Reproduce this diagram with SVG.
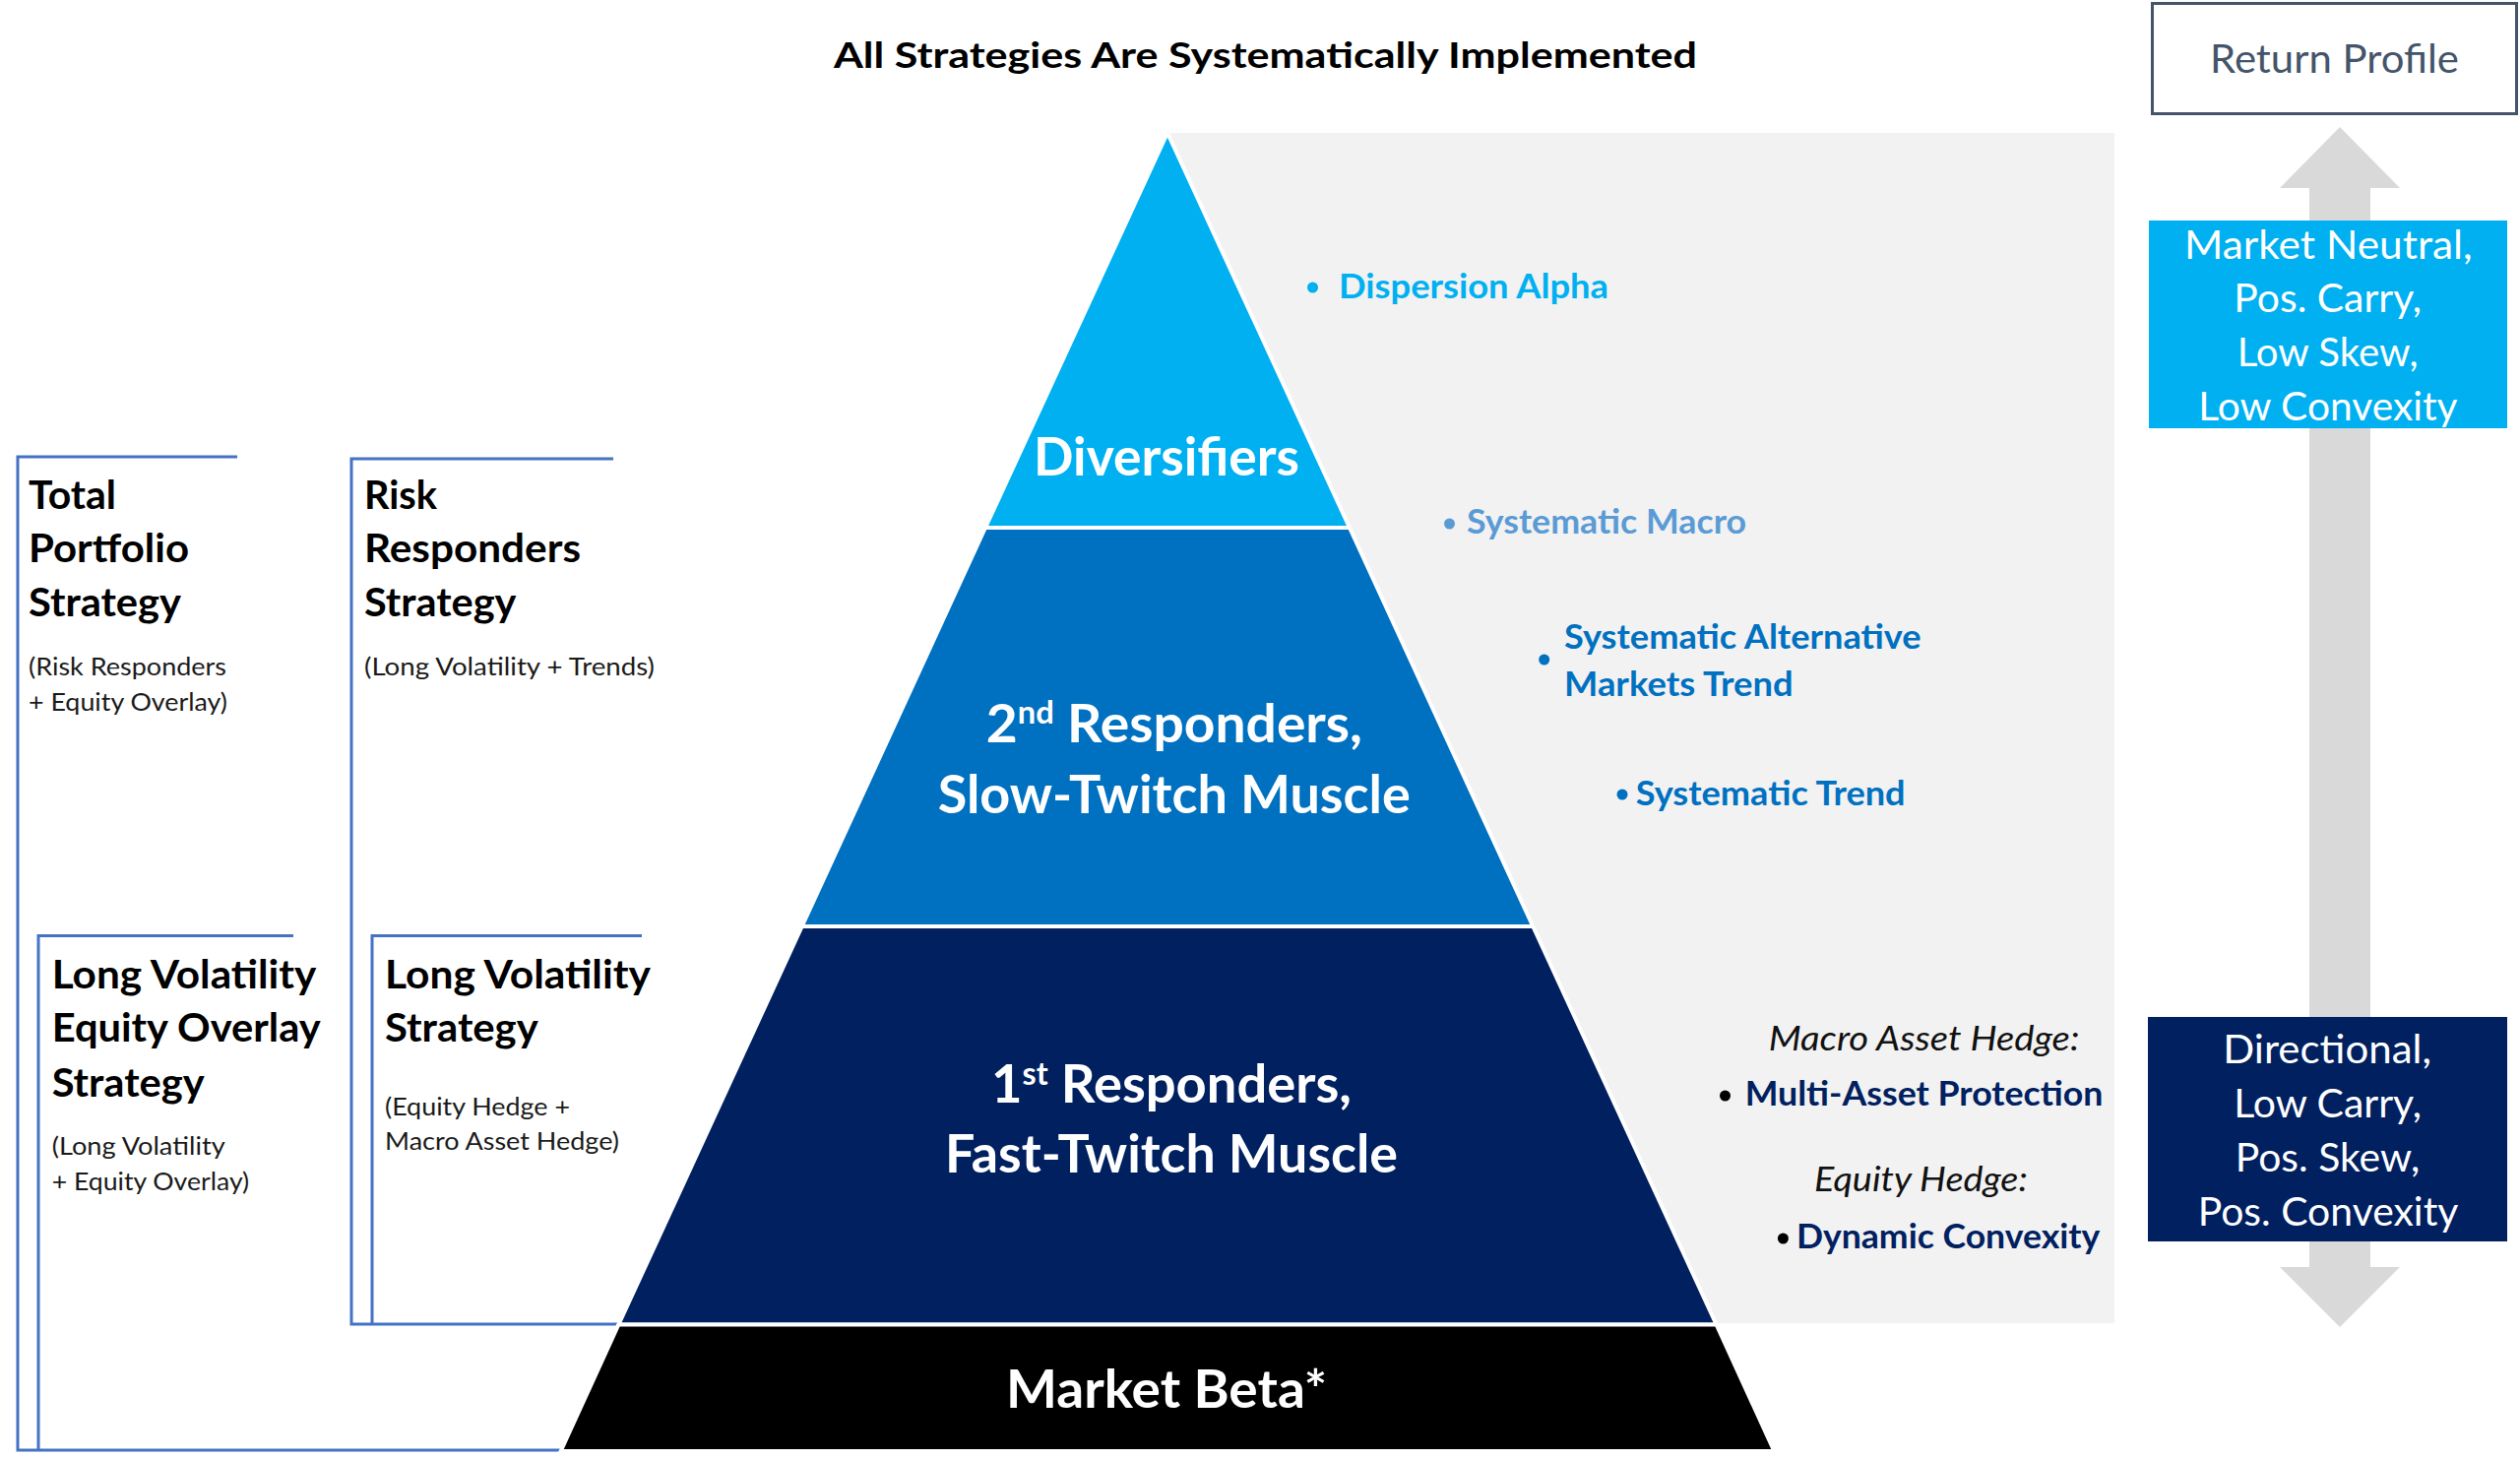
<svg xmlns="http://www.w3.org/2000/svg" width="2560" height="1482" viewBox="0 0 2560 1482">
<style>
text{font-family:Lato,"Open Sans","Liberation Sans",sans-serif}
.b{font-weight:700}
.title{font-size:36.5px;fill:#000}
.hd{font-size:41px;fill:#000;font-weight:700}
.sm{font-size:25.5px;fill:#1a1a1a}
.pyr{font-size:54px;fill:#fff;font-weight:700}
.sup{font-size:32px}
.rt{font-size:35px;font-weight:700}
.it{font-size:34.5px;font-style:italic;fill:#111}
.prof{font-size:40px;fill:#fff}
.brk{fill:none;stroke:#4472C4;stroke-width:3}
.band{stroke:#fff;stroke-width:4;stroke-linejoin:miter}
</style>
<rect width="2560" height="1482" fill="#fff"/>
<rect id="panel" x="1186" y="135" width="962" height="1209" fill="#F2F2F2"/>

<g id="title"><text class="title b" x="847" y="69.3" textLength="877" lengthAdjust="spacingAndGlyphs">All Strategies Are Systematically Implemented</text></g>

<g id="connectors">
<polygon id="profile-arrow" points="2377,129 2438,191 2408,191 2408,1287 2438,1287 2377,1348 2316,1287 2346,1287 2346,191 2316,191" fill="#D9D9D9"/>
</g>

<g id="brackets">
<polyline id="total-bracket" class="brk" points="241,464 18,464 18,1473 571,1473"/>
<polyline id="lveo-bracket" class="brk" points="298,950.5 39,950.5 39,1473"/>
<polyline id="risk-bracket" class="brk" points="623,466 357,466 357,1345 630,1345"/>
<polyline id="lvs-bracket" class="brk" points="652,950.5 378,950.5 378,1345"/>
</g>

<g id="total-portfolio">
<text class="hd" x="29" y="517" textLength="89" lengthAdjust="spacingAndGlyphs">Total</text>
<text class="hd" x="29" y="571" textLength="163" lengthAdjust="spacingAndGlyphs">Portfolio</text>
<text class="hd" x="29" y="626" textLength="155" lengthAdjust="spacingAndGlyphs">Strategy</text>
<text class="sm" x="29" y="686" textLength="201" lengthAdjust="spacingAndGlyphs">(Risk Responders</text>
<text class="sm" x="29" y="722" textLength="202" lengthAdjust="spacingAndGlyphs">+ Equity Overlay)</text>
</g>
<g id="risk-responders">
<text class="hd" x="370" y="517" textLength="74" lengthAdjust="spacingAndGlyphs">Risk</text>
<text class="hd" x="370" y="571" textLength="220" lengthAdjust="spacingAndGlyphs">Responders</text>
<text class="hd" x="370" y="626" textLength="154.5" lengthAdjust="spacingAndGlyphs">Strategy</text>
<text class="sm" x="370" y="686" textLength="295" lengthAdjust="spacingAndGlyphs">(Long Volatility + Trends)</text>
</g>
<g id="lv-equity-overlay">
<text class="hd" x="52.7" y="1004" textLength="268.7" lengthAdjust="spacingAndGlyphs">Long Volatility</text>
<text class="hd" x="52.7" y="1058" textLength="273" lengthAdjust="spacingAndGlyphs">Equity Overlay</text>
<text class="hd" x="52.7" y="1113.5" textLength="155" lengthAdjust="spacingAndGlyphs">Strategy</text>
<text class="sm" x="52.7" y="1173" textLength="176" lengthAdjust="spacingAndGlyphs">(Long Volatility</text>
<text class="sm" x="52.7" y="1208.5" textLength="200.5" lengthAdjust="spacingAndGlyphs">+ Equity Overlay)</text>
</g>
<g id="lv-strategy">
<text class="hd" x="391" y="1004" textLength="270" lengthAdjust="spacingAndGlyphs">Long Volatility</text>
<text class="hd" x="391" y="1058" textLength="155.8" lengthAdjust="spacingAndGlyphs">Strategy</text>
<text class="sm" x="391" y="1133" textLength="188" lengthAdjust="spacingAndGlyphs">(Equity Hedge +</text>
<text class="sm" x="391" y="1168" textLength="238" lengthAdjust="spacingAndGlyphs">Macro Asset Hedge)</text>
</g>

<g id="diversifiers">
<polygon class="band" points="1186,135 1371,536 1001,536" fill="#00B0F0"/>
<text class="pyr" x="1050" y="482.7" textLength="270" lengthAdjust="spacingAndGlyphs">Diversifiers</text>
</g>
<g id="second-responders">
<polygon class="band" points="1001,536 1371,536 1557.3,941 814.7,941" fill="#0070C0"/>
<text class="pyr" x="1001.7" y="754" textLength="382.3" lengthAdjust="spacingAndGlyphs">2<tspan class="sup" dy="-19">nd</tspan><tspan dy="19"> Responders,</tspan></text>
<text class="pyr" x="952.7" y="826" textLength="480" lengthAdjust="spacingAndGlyphs">Slow-Twitch Muscle</text>
</g>
<g id="first-responders">
<polygon class="band" points="814.7,941 1557.3,941 1743.6,1345.5 628.4,1345.5" fill="#002060"/>
<text class="pyr" x="1007" y="1120" textLength="366" lengthAdjust="spacingAndGlyphs">1<tspan class="sup" dy="-18">st</tspan><tspan dy="18"> Responders,</tspan></text>
<text class="pyr" x="960" y="1190.7" textLength="460" lengthAdjust="spacingAndGlyphs">Fast-Twitch Muscle</text>
</g>
<g id="market-beta">
<polygon class="band" points="628.4,1345.5 1743.6,1345.5 1802.3,1474 569.7,1474" fill="#000"/>
<text class="pyr" x="1022" y="1430" textLength="326" lengthAdjust="spacingAndGlyphs">Market Beta*</text>
</g>

<g id="strategy-labels">
<circle cx="1333.5" cy="292" r="5.5" fill="#00B0F0"/>
<text class="rt" x="1360" y="302.7" fill="#00B0F0" textLength="274" lengthAdjust="spacingAndGlyphs">Dispersion Alpha</text>
<circle cx="1472.5" cy="532" r="5.5" fill="#5B9BD5"/>
<text class="rt" x="1490" y="542" fill="#5B9BD5" textLength="284" lengthAdjust="spacingAndGlyphs">Systematic Macro</text>
<circle cx="1568.7" cy="670" r="5.5" fill="#0070C0"/>
<text class="rt" x="1589" y="659.3" fill="#0070C0" textLength="362.6" lengthAdjust="spacingAndGlyphs">Systematic Alternative</text>
<text class="rt" x="1589" y="706.7" fill="#0070C0" textLength="232.7" lengthAdjust="spacingAndGlyphs">Markets Trend</text>
<circle cx="1648" cy="807" r="5.5" fill="#0070C0"/>
<text class="rt" x="1661.8" y="818.3" fill="#0070C0" textLength="273.8" lengthAdjust="spacingAndGlyphs">Systematic Trend</text>
<text class="it" x="1796.7" y="1066.7" textLength="315.7" lengthAdjust="spacingAndGlyphs">Macro Asset Hedge:</text>
<circle cx="1752.5" cy="1113" r="5.5" fill="#000"/>
<text class="rt" x="1772.7" y="1123.3" fill="#002060" textLength="363.7" lengthAdjust="spacingAndGlyphs">Multi-Asset Protection</text>
<text class="it" x="1843" y="1210" textLength="216.8" lengthAdjust="spacingAndGlyphs">Equity Hedge:</text>
<circle cx="1811.4" cy="1258" r="5.5" fill="#000"/>
<text class="rt" x="1825" y="1268.3" fill="#002060" textLength="308.4" lengthAdjust="spacingAndGlyphs">Dynamic Convexity</text>
</g>

<g id="return-profile">
<rect x="2186.5" y="3.5" width="370" height="112" fill="#fff" stroke="#44546A" stroke-width="3"/>
<text x="2245" y="74" font-size="40" fill="#44546A" textLength="253" lengthAdjust="spacingAndGlyphs">Return Profile</text>
</g>
<g id="profile-top">
<rect x="2183" y="224" width="364" height="211" fill="#00B0F0"/>
<text class="prof" x="2219" y="263" textLength="292.7" lengthAdjust="spacingAndGlyphs">Market Neutral,</text>
<text class="prof" x="2269.3" y="317" textLength="190.7" lengthAdjust="spacingAndGlyphs">Pos. Carry,</text>
<text class="prof" x="2272.7" y="372" textLength="184" lengthAdjust="spacingAndGlyphs">Low Skew,</text>
<text class="prof" x="2233.3" y="427" textLength="263.3" lengthAdjust="spacingAndGlyphs">Low Convexity</text>
</g>
<g id="profile-bottom">
<rect x="2182" y="1033" width="365" height="228" fill="#002060"/>
<text class="prof" x="2258.3" y="1080" textLength="211.7" lengthAdjust="spacingAndGlyphs">Directional,</text>
<text class="prof" x="2269.3" y="1135" textLength="190.7" lengthAdjust="spacingAndGlyphs">Low Carry,</text>
<text class="prof" x="2270.7" y="1190" textLength="187.7" lengthAdjust="spacingAndGlyphs">Pos. Skew,</text>
<text class="prof" x="2232.7" y="1245" textLength="264.7" lengthAdjust="spacingAndGlyphs">Pos. Convexity</text>
</g>
</svg>
